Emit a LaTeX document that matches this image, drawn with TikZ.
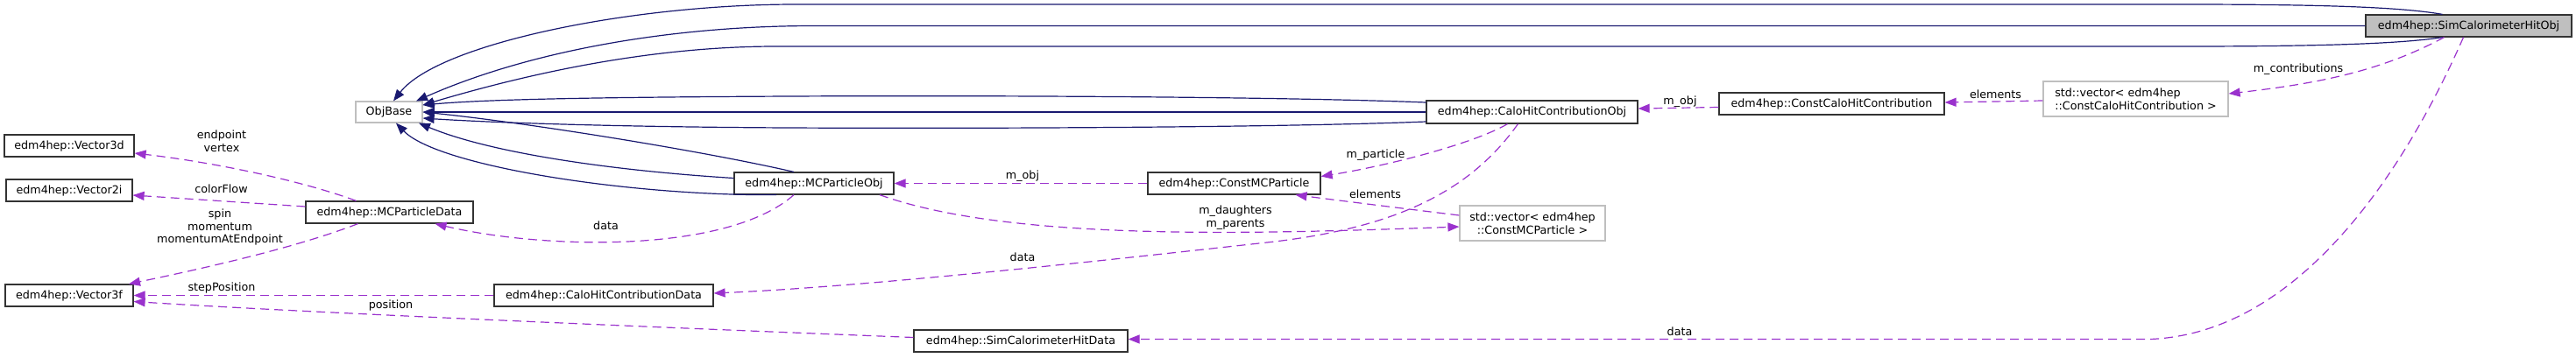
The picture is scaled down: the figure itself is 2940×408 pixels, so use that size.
\documentclass[tikz,border=0pt]{standalone}
\usepackage{fontspec}
\setmainfont{DejaVu Sans}
\usetikzlibrary{arrows.meta}
\definecolor{inhcol}{HTML}{191970}
\definecolor{depcol}{HTML}{9A32CD}
\definecolor{graybd}{HTML}{BFBFBF}
\begin{document}
\begin{tikzpicture}[x=1pt,y=-1pt,
  every node/.style={font=\fontsize{12.7}{14.6}\selectfont, inner sep=0pt},
  cls/.style={draw=black!80, line width=1.2pt, fill=white, minimum height=25pt, align=center},
  ext/.style={cls, draw=graybd},
  inh/.style={draw=inhcol, line width=1.2pt, -{Triangle[length=13pt,width=10pt]}},
  dep/.style={draw=depcol, line width=1.2pt, dash pattern=on 10pt off 6pt, -{Triangle[length=13pt,width=10pt]}},
  lbl/.style={align=center}]
\useasboundingbox (0,0) rectangle (2940,408);
% nodes
\node[ext, minimum width=76pt, minimum height=24pt] (objbase) at (444,128) {ObjBase};
\node[cls, minimum width=148pt] (v3d) at (79,166.5) {edm4hep::Vector3d};
\node[cls, minimum width=144pt] (v2i) at (79,217.5) {edm4hep::Vector2i};
\node[cls, minimum width=146pt] (v3f) at (79,337.5) {edm4hep::Vector3f};
\node[cls, minimum width=191pt] (mcpd) at (444.5,242.5) {edm4hep::MCParticleData};
\node[cls, minimum width=250pt] (chcd) at (689,337.5) {edm4hep::CaloHitContributionData};
\node[cls, minimum width=182pt] (mcpo) at (929,209.5) {edm4hep::MCParticleObj};
\node[cls, minimum width=197pt] (cmcp) at (1408.5,209.5) {edm4hep::ConstMCParticle};
\node[cls, minimum width=244pt] (schd) at (1165,389.5) {edm4hep::SimCalorimeterHitData};
\node[cls, minimum width=241pt, minimum height=26pt] (chco) at (1748.5,128) {edm4hep::CaloHitContributionObj};
\node[cls, minimum width=257pt] (cchc) at (2090.5,118.5) {edm4hep::ConstCaloHitContribution};
\node[ext, minimum width=166pt, minimum height=40pt] (vmcp) at (1749,255) {std::vector< edm4hep\\::ConstMCParticle >};
\node[ext, minimum width=211pt, minimum height=40pt, align=left] (vchc) at (2437.5,113) {std::vector< edm4hep\\::ConstCaloHitContribution >};
\node[cls, fill=graybd, minimum width=235pt] (scho) at (2817.5,29.5) {edm4hep::SimCalorimeterHitObj};
% inheritance edges
\draw[inh] ([xshift=-30pt]scho.north) .. controls (2740,8) and (2650,5) .. (2490,5) -- (908,5) .. controls (720,5) and (500,50) .. ([xshift=5pt]objbase.north);
\draw[inh] (scho.west) -- (930,29.5) .. controls (760,29.5) and (600,60) .. ([xshift=31pt]objbase.north);
\draw[inh] ([xshift=-30pt]scho.south) .. controls (2740,50) and (2650,53) .. (2490,53) -- (886,53) .. controls (740,53) and (600,85) .. ([yshift=8pt]objbase.east);
\draw[inh] ([yshift=11pt]chco.west) .. controls (1450,110) and (1100,109) .. (900,110) .. controls (700,111) and (560,113) .. ([yshift=8pt]objbase.east);
\draw[inh] (chco.west) -- (objbase.east);
\draw[inh] ([yshift=-11pt]chco.west) .. controls (1450,146) and (1100,147) .. (900,146) .. controls (700,145) and (560,140) .. ([yshift=-7pt]objbase.east);
\draw[inh] ([xshift=-23pt]mcpo.north) .. controls (800,172) and (600,140) .. (objbase.east);
\draw[inh] ([yshift=6pt]mcpo.west) .. controls (700,195) and (560,175) .. ([xshift=34pt]objbase.south);
\draw[inh] ([xshift=-43pt]mcpo.south) .. controls (720,224) and (500,190) .. ([xshift=8pt]objbase.south);
% dependency edges
\draw[dep] ([xshift=-38pt]mcpd.north) .. controls (340,205) and (240,185) .. ([yshift=-8.5pt]v3d.east);
\draw[dep] ([yshift=6.5pt]mcpd.west) -- ([yshift=-5.5pt]v2i.east);
\draw[dep] ([xshift=-36pt]mcpd.south) .. controls (340,282) and (240,305) .. ([xshift=68pt]v3f.north);
\draw[dep] (chcd.west) -- (v3f.east);
\draw[dep] ([yshift=4pt]schd.west) .. controls (700,372) and (350,357) .. ([yshift=-7pt]v3f.east);
\draw[dep] ([xshift=-23pt]mcpo.south) .. controls (830,290) and (620,285) .. ([xshift=52pt]mcpd.south);
\draw[dep] (cmcp.west) -- (mcpo.east);
\draw[dep] ([xshift=75pt]mcpo.south) .. controls (1150,275) and (1420,268) .. ([yshift=-4pt]vmcp.west);
\draw[dep] ([yshift=9pt]vmcp.west) .. controls (1600,238) and (1520,228) .. ([xshift=70pt]cmcp.south);
\draw[dep] ([xshift=-28pt]chco.south) .. controls (1680,165) and (1580,190) .. ([yshift=8pt]cmcp.east);
\draw[dep] ([xshift=-16pt]chco.south) .. controls (1680,215) and (1600,260) .. (1446,277) .. controls (1300,293) and (1000,327) .. ([yshift=2.5pt]chcd.east);
\draw[dep] ([yshift=-4pt]cchc.west) -- ([yshift=4pt]chco.east);
\draw[dep] ([yshift=-2pt]vchc.west) -- ([yshift=1.5pt]cchc.east);
\draw[dep] ([xshift=-28pt]scho.south) .. controls (2720,80) and (2650,95) .. ([yshift=6pt]vchc.east);
\draw[dep] ([xshift=-6pt]scho.south) .. controls (2760,160) and (2640,380) .. (2454,387.5) -- ([yshift=2pt]schd.east);
% labels
\node[lbl] (l1) at (253,161) {endpoint\\vertex};
\node[lbl] (l2) at (252.5,216) {colorFlow};
\node[lbl] (l3) at (251,259.5) {spin\\momentum\\momentumAtEndpoint};
\node[lbl] (l4) at (253,329) {stepPosition};
\node[lbl] (l5) at (446,349) {position};
\node[lbl] (l6) at (691.5,258) {data};
\node[lbl] (l7) at (1167,201) {m\_obj};
\node[lbl] (l8) at (1570,177) {m\_particle};
\node[lbl] (l9) at (1569.5,222) {elements};
\node[lbl] (l10) at (1410,248.5) {m\_daughters\\m\_parents};
\node[lbl] (l11) at (1167,294) {data};
\node[lbl] (l12) at (1917.5,115.7) {m\_obj};
\node[lbl] (l13) at (2277.5,107.7) {elements};
\node[lbl] (l14) at (2623,79) {m\_contributions};
\node[lbl] (l15) at (1917,379) {data};
\end{tikzpicture}
\end{document}
